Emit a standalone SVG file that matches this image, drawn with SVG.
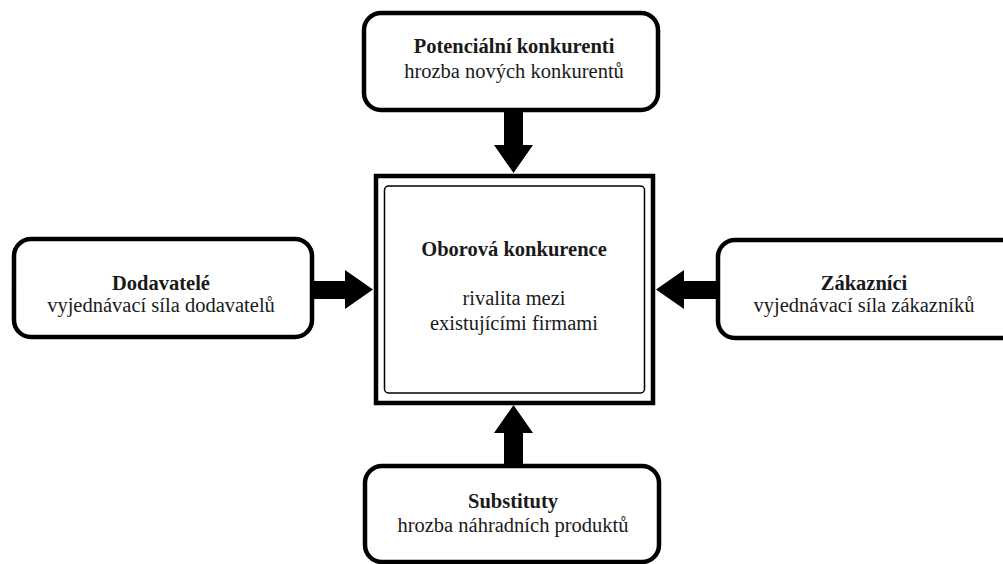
<svg xmlns="http://www.w3.org/2000/svg" width="1003" height="564" viewBox="0 0 1003 564">
<style>
.box{fill:#fff;stroke:#000;stroke-width:4.5}
.t{font-family:"Liberation Serif","Times New Roman",serif;font-size:20.5px;fill:#1a1a1a;text-anchor:middle}
.b{font-weight:bold}
.arr{fill:#000}
</style>
<rect width="1003" height="564" fill="#fff"/>
<g id="center">
<rect x="376" y="176" width="277" height="227" fill="#fff" stroke="#000" stroke-width="4.5"/>
<rect x="384.5" y="186" width="260" height="207" rx="4" fill="none" stroke="#000" stroke-width="1.5"/>
<text class="t b" x="514" y="256">Oborová konkurence</text>
<text class="t" x="514" y="305">rivalita mezi</text>
<text class="t" x="514" y="330">existujícími firmami</text>
</g>
<g id="top">
<rect class="box" x="364" y="13" width="294" height="97" rx="17"/>
<text class="t b" x="514" y="53">Potenciální konkurenti</text>
<text class="t" x="514" y="78">hrozba nových konkurentů</text>
</g>
<g id="left">
<rect class="box" x="14" y="239" width="298" height="98" rx="17"/>
<text class="t b" x="161" y="290">Dodavatelé</text>
<text class="t" x="161" y="312">vyjednávací síla dodavatelů</text>
</g>
<g id="right">
<rect class="box" x="718" y="240" width="305" height="98" rx="17"/>
<text class="t b" x="864" y="290">Zákazníci</text>
<text class="t" x="864" y="312">vyjednávací síla zákazníků</text>
</g>
<g id="bottom">
<rect class="box" x="365" y="466" width="294" height="96" rx="17"/>
<text class="t b" x="513" y="508">Substituty</text>
<text class="t" x="513" y="532">hrozba náhradních produktů</text>
</g>
<g id="connectors">
<polygon class="arr" points="504,110 523,110 523,145 533,145 513.5,173 494,145 504,145"/>
<polygon class="arr" points="504,466 523,466 523,433 533,433 513.5,405 494,433 504,433"/>
<polygon class="arr" points="312,281 345,281 345,270 373,289.5 345,309 345,299 312,299"/>
<polygon class="arr" points="718,281 684,281 684,270 656,289.5 684,309 684,299 718,299"/>
</g>
</svg>
